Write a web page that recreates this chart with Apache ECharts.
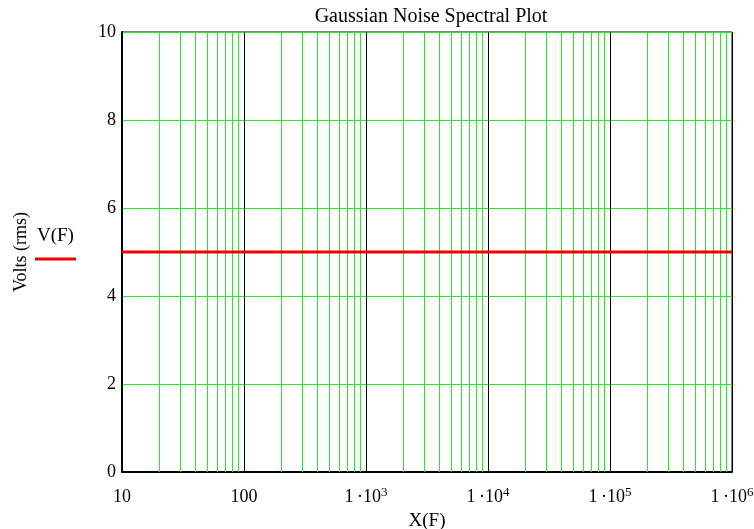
<!DOCTYPE html>
<html>
<head>
<meta charset="utf-8">
<script src="https://cdn.jsdelivr.net/npm/echarts@6/dist/echarts.min.js"></script>
<style>
  html, body { margin: 0; padding: 0; background: #fff; }
  #chart { width: 754px; height: 529px; }
</style>
</head>
<body>
<div id="chart"></div>
<script>
// Frequency samples (Hz) and the rms voltage of the noise at each
const freq = [10, 100, 1000, 10000, 100000, 1000000];
const volts = [5, 5, 5, 5, 5, 5];

// Minor log-grid positions inside each decade (2..9 × 10^n)
const minorGrid = [
  20, 30, 40, 50, 60, 70, 80, 90,
  200, 300, 400, 500, 600, 700, 800, 900,
  2000, 3000, 4000, 5000, 6000, 7000, 8000, 9000,
  20000, 30000, 40000, 50000, 60000, 70000, 80000, 90000,
  200000, 300000, 400000, 500000, 600000, 700000, 800000, 900000
];

const yTicks = { min: 0, max: 10, interval: 2 };

const FONT = '"Liberation Serif", "Times New Roman", serif';
const GREEN = '#22ee22';

const chart = echarts.init(document.getElementById('chart'), null, { renderer: 'canvas' });

chart.setOption({
  animation: false,
  backgroundColor: '#ffffff',
  title: {
    text: 'Gaussian Noise Spectral Plot',
    left: 426,
    textAlign: 'center',
    top: 2,
    textStyle: { fontFamily: FONT, fontSize: 20, fontWeight: 'normal', color: '#000' }
  },
  grid: {
    left: 122, right: 22, top: 32, bottom: 57,
    outerBoundsMode: 'none',
    containLabel: false,
    show: true, borderColor: '#000', borderWidth: 1, backgroundColor: 'transparent'
  },
  xAxis: {
    type: 'log',
    logBase: 10,
    min: 10,
    max: 1000000,
    name: 'X(F)',
    nameLocation: 'middle',
    nameGap: 38,
    nameTextStyle: { fontFamily: FONT, fontSize: 19, color: '#000', verticalAlign: 'top' },
    axisLine: { show: true, onZero: false, lineStyle: { color: '#000', width: 2 } },
    axisTick: { show: false },
    splitLine: { show: true, lineStyle: { color: '#000', width: 1 } },
    axisLabel: {
      margin: 14,
      color: '#000',
      fontFamily: FONT,
      fontSize: 18,
      formatter: function (v) {
        const e = Math.round(Math.log10(v));
        if (e < 3) return '{b|' + Math.round(v) + '}';
        return '{b|1\u2009·10}{s|' + e + '}';
      },
      rich: {
        b: { fontFamily: FONT, fontSize: 18, color: '#000', verticalAlign: 'bottom', lineHeight: 20 },
        s: { fontFamily: FONT, fontSize: 13, color: '#000', verticalAlign: 'top', lineHeight: 20, padding: [0, 0, 8, 0] }
      }
    }
  },
  yAxis: {
    type: 'value',
    min: yTicks.min,
    max: yTicks.max,
    interval: yTicks.interval,
    name: 'Volts (rms)',
    nameLocation: 'middle',
    nameGap: 92,
    nameTextStyle: { fontFamily: FONT, fontSize: 18, color: '#000' },
    axisLine: { show: true, lineStyle: { color: '#000', width: 2 } },
    axisTick: { show: false },
    splitLine: { show: true, lineStyle: { color: GREEN, width: 1 } },
    axisLabel: { margin: 6, color: '#000', fontFamily: FONT, fontSize: 18 }
  },
  graphic: [
    {
      type: 'text',
      left: 37, top: 227,
      style: { text: 'V(F)', fontFamily: FONT, fontSize: 19, fill: '#000' }
    },
    {
      type: 'line',
      shape: { x1: 35, y1: 259, x2: 76, y2: 259 },
      style: { stroke: '#ee0000', lineWidth: 3 }
    }
  ],
  series: [
    {
      // minor vertical grid lines of the log axis
      type: 'custom',
      name: 'minor',
      silent: true,
      z: 1,
      data: minorGrid,
      renderItem: function (params, api) {
        const x = api.value(0);
        const p0 = api.coord([x, yTicks.min]);
        const p1 = api.coord([x, yTicks.max]);
        return {
          type: 'line',
          shape: { x1: Math.round(p0[0]) + 0.5, y1: p0[1], x2: Math.round(p1[0]) + 0.5, y2: p1[1] },
          style: { stroke: GREEN, lineWidth: 1 }
        };
      },
      encode: { x: 0 }
    },
    {
      type: 'line',
      name: 'V(F)',
      z: 5,
      data: freq.map((f, i) => [f, volts[i]]),
      symbol: 'none',
      lineStyle: { color: '#ee0000', width: 3 }
    }
  ]
});
</script>
</body>
</html>
